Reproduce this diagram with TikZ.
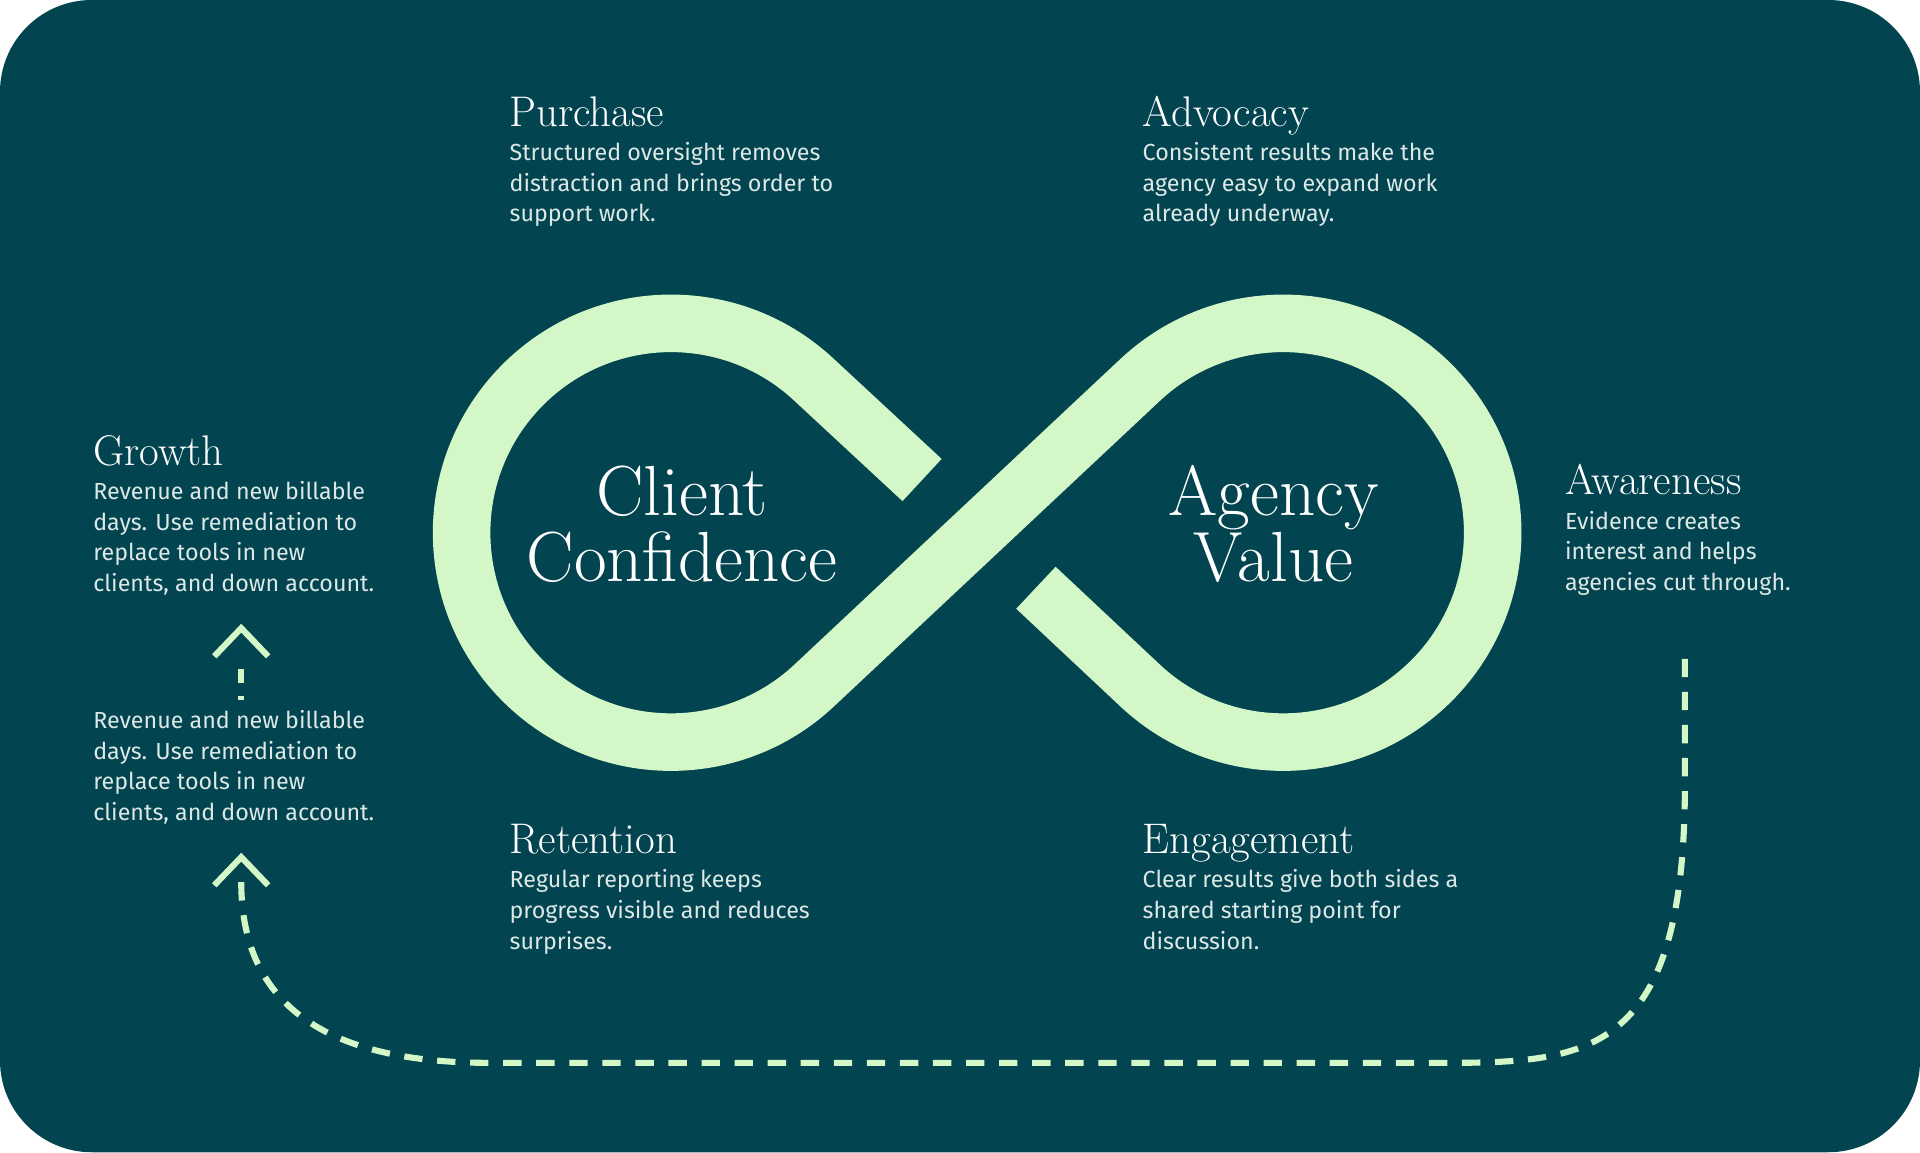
\documentclass[tikz,border=0pt]{standalone}
\usepackage{fontspec}
\setsansfont{Fira Sans}
\definecolor{bg}{HTML}{02444F}
\definecolor{mint}{HTML}{D3F7C6}
\definecolor{bodytxt}{HTML}{DCE8E6}
\begin{document}
\begin{tikzpicture}[x=1pt,y=1pt,
  head/.style={anchor=base west,text=white,font=\fontsize{35}{40}\selectfont,inner sep=0},
  body/.style={anchor=north west,text=bodytxt,align=left,inner sep=0,font=\sffamily\fontsize{19}{25}\selectfont},
  big/.style={text=white,align=center,inner sep=0,font=\fontsize{58}{54}\selectfont},
  dashline/.style={draw=mint,line width=5pt,dash pattern=on 15pt off 12pt},
  chev/.style={draw=mint,line width=5pt}]
\fill[white] (0,0) rectangle (1568,-941);
\useasboundingbox (0,0) rectangle (1568,-941);
\fill[bg,rounded corners=75pt] (0,0) rectangle (1568,-941);
% infinity
\coordinate (cutA) at (753,-392);
\coordinate (cutB) at (846,-480);
\draw[mint,line width=47pt,line cap=butt,line join=round]
  (cutA) -- (664.6,-310) arc[start angle=47,end angle=313,radius=171]
  -- (931.4,-310) arc[start angle=133,end angle=-133,radius=171] -- (cutB);
\node[big] (cc) at (557,-428) {Client\\Confidence};
\node[big] (av) at (1040,-428) {Agency\\Value};
% texts
\node[head] (h1) at (416,-103) {Purchase};
\node[body] (b1) at (416,-116) {Structured oversight removes\\distraction and brings order to\\support work.};
\node[head] (h2) at (933,-103) {Advocacy};
\node[body] (b2) at (933,-116) {Consistent results make the\\agency easy to expand work\\already underway.};
\node[head] (h3) at (76,-380) {Growth};
\node[body] (b3) at (76,-393) {Revenue and new billable\\days. Use remediation to\\replace tools in new\\clients, and down account.};
\node[body] (b4) at (76,-580) {Revenue and new billable\\days. Use remediation to\\replace tools in new\\clients, and down account.};
\node[head] (h4) at (1278,-404) {Awareness};
\node[body] (b5) at (1278,-417) {Evidence creates\\interest and helps\\agencies cut through.};
\node[head] (h5) at (416,-697) {Retention};
\node[body] (b6) at (416,-710) {Regular reporting keeps\\progress visible and reduces\\surprises.};
\node[head] (h6) at (933,-697) {Engagement};
\node[body] (b7) at (933,-710) {Clear results give both sides a\\shared starting point for\\discussion.};
% arrows
\coordinate (c1) at (197,-513);
\coordinate (c2) at (197,-700);
\draw[chev] (175,-536) -- (c1) -- (219,-536);
\draw[chev] (175,-723) -- (c2) -- (219,-723);
\coordinate (d1a) at (197,-532);
\coordinate (d1b) at (197,-572);
\draw[dashline,dash pattern=on 12pt off 10pt] (197,-546) -- (d1b);
\coordinate (start) at (1376,-538);
\coordinate (endp) at (197,-720);
\draw[dashline] (start) -- (1376,-640) .. controls (1376,-860) and (1300,-868) .. (1180,-868)
  -- (400,-868) .. controls (240,-868) and (197,-800) .. (endp);
\end{tikzpicture}
\end{document}
